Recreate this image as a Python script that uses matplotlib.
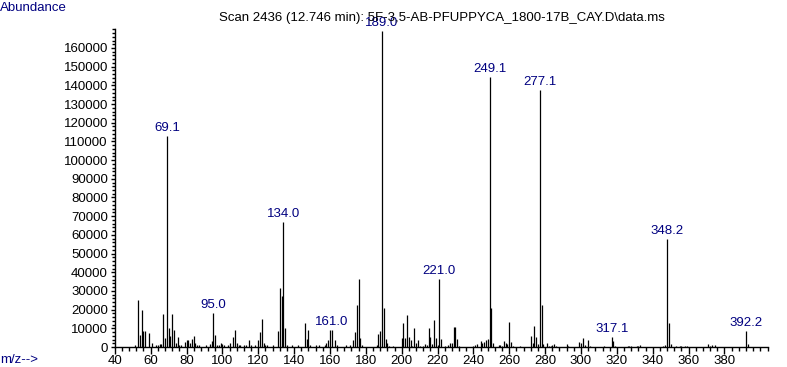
from matplotlib import pyplot as plt
from matplotlib.ticker import MultipleLocator
import numpy as np

plt.rcParams['font.family'] = ['Liberation Sans', 'DejaVu Sans']

navy = '#000080'

# m/z and abundance
mz = [51, 53, 54, 55, 56, 57, 59, 61, 63, 64, 65, 66, 67, 68, 69.1, 70, 71, 72, 73, 74,
      75, 76, 77, 79, 80, 81, 82, 83, 84, 85, 86, 87, 91, 93, 94, 95.0, 96, 97, 98, 99,
      100, 101, 103, 104, 106, 107, 108, 109, 110, 112, 113, 115, 116, 118, 120, 121, 122, 123, 124, 125,
      128, 131, 132, 133, 134.0, 135, 136, 139, 142, 146, 147, 148, 149, 152, 154, 157, 158, 159, 160, 161.0,
      163, 164, 169, 171, 173, 174, 175, 176, 177, 178, 186, 187, 188, 189.0, 190, 191, 192, 193, 195, 200,
      201, 202, 203, 204, 205, 206, 207, 208, 209, 210, 212, 213, 214, 215, 216, 217, 218, 219, 220, 221.0,
      222, 224, 226, 227, 228, 229, 230, 231, 232, 240, 241, 242, 244, 245, 246, 247, 248, 249.1, 250, 251,
      254, 255, 256, 257, 258, 259, 260, 261, 262, 266, 272, 273, 274, 275, 276, 277.1, 278, 279, 281, 282,
      283, 284, 285, 286, 292, 293, 299, 300, 301, 302, 304, 305, 313, 317.1, 318, 319, 326, 327, 328, 331,
      332, 333, 346, 347, 348.2, 349, 350, 353, 355, 356, 358, 359, 371, 372, 373, 375, 392.2, 393]
abundance = [900, 25000, 6300, 20000, 8400, 8400, 7500, 2300, 1200, 1200, 1800, 1600, 17800, 5000, 113000, 10400, 5700, 17500, 9300, 2100,
             5400, 1200, 1200, 2700, 3900, 3600, 2100, 4500, 5700, 2100, 1200, 900, 900, 1800, 3000, 18000, 6300, 1200, 1200, 2100,
             1800, 1200, 1200, 2100, 5400, 9300, 2100, 1200, 900, 1200, 1200, 3900, 1200, 1200, 3900, 8000, 15200, 2100, 1200, 900,
             1200, 8600, 31400, 27300, 66900, 10000, 900, 900, 1200, 13000, 4100, 9100, 1200, 900, 900, 900, 2100, 3900, 8900, 9300,
             3500, 900, 1200, 1200, 3700, 8200, 22500, 36200, 4600, 1000, 1200, 7000, 8600, 169000, 21000, 4100, 2300, 800, 500, 4600,
             12700, 4600, 17100, 5200, 3700, 500, 10000, 2000, 3700, 500, 400, 1800, 1200, 10000, 5200, 1800, 14400, 4600, 1200, 36200,
             4100, 400, 1200, 2000, 2300, 10500, 10500, 4100, 500, 500, 1200, 1800, 3300, 2000, 2700, 3700, 4100, 144500, 21000, 2300,
             1200, 1200, 400, 3300, 2000, 1800, 13500, 2700, 500, 500, 5900, 2300, 11200, 5200, 1800, 137500, 22500, 1800, 2300, 500,
             500, 1200, 1800, 500, 1800, 400, 2700, 2000, 4600, 1200, 3700, 500, 500, 5200, 3100, 400, 400, 400, 400, 400,
             800, 1200, 500, 1200, 57800, 13000, 1500, 800, 400, 400, 400, 400, 1800, 400, 1200, 1200, 8700, 1800]

labeled = ['69.1', '95.0', '134.0', '161.0', '189.0', '221.0', '249.1', '277.1', '317.1', '348.2', '392.2']

title = 'Scan 2436 (12.746 min): 5F-3,5-AB-PFUPPYCA_1800-17B_CAY.D\\data.ms'

W, H = 787, 367
fig = plt.figure(figsize=(W / 100, H / 100), dpi=100)
# axes box in pixels: left 114.8, right 767.5, bottom y=347, top y=28
ax = fig.add_axes([114.8 / W, (H - 347) / H, (767.5 - 114.8) / W, (347 - 28) / H])

ax.vlines(mz, 0, abundance, color='black', linewidth=0.9)

for lab in labeled:
    v = float(lab)
    i = mz.index(v)
    ax.annotate(lab, (v, abundance[i]), xytext=(0, 2), textcoords='offset pixels',
                ha='center', va='bottom', color=navy, fontsize=9.5, annotation_clip=False)

ax.set_xlim(40, 404)
ax.set_ylim(0, 170700)

ax.xaxis.set_major_locator(MultipleLocator(20))
ax.xaxis.set_minor_locator(MultipleLocator(4))
ax.yaxis.set_major_locator(MultipleLocator(10000))
ax.yaxis.set_minor_locator(MultipleLocator(2000))
ax.set_xticks(np.arange(40, 381, 20))
ax.set_yticks(np.arange(0, 160001, 10000))

ax.tick_params(axis='both', which='major', labelsize=9.5, color='black', width=1)
ax.tick_params(axis='x', which='major', length=5, pad=1)
ax.tick_params(axis='x', which='minor', length=3, width=1)
ax.tick_params(axis='y', which='major', length=3, pad=2)
ax.tick_params(axis='y', which='minor', length=2, width=1)

for s in ['top', 'right']:
    ax.spines[s].set_visible(False)
ax.spines['left'].set_linestyle((0, (1, 1)))
ax.spines['left'].set_linewidth(1)
ax.spines['bottom'].set_linewidth(1)
ax.patch.set_alpha(0)

fig.text(0, 1 - 8 / H, 'Abundance', color=navy, fontsize=9.5, ha='left', va='center')
fig.text(0, 1 - 360 / H, 'm/z-->', color=navy, fontsize=9.5, ha='left', va='center')
fig.text(441.5 / W, 1 - 18 / H, title, color='black', fontsize=9.5, ha='center', va='center')

fig.savefig('out.png', dpi=100)
